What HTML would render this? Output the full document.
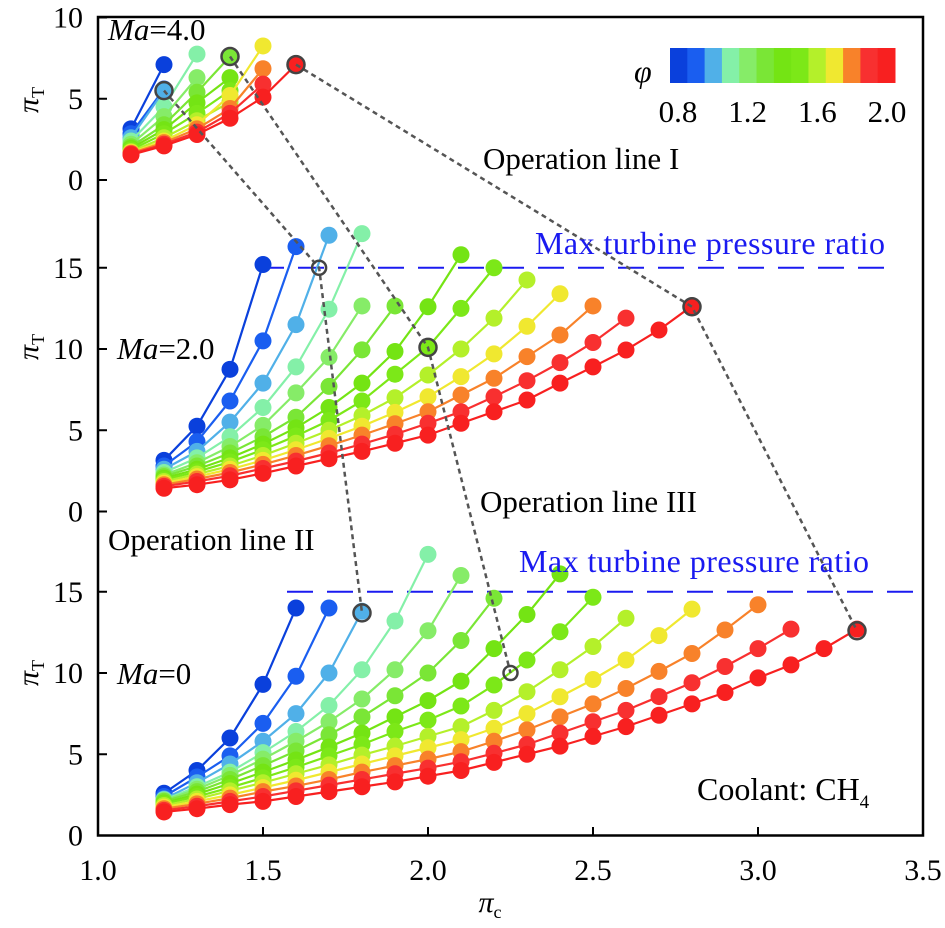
<!DOCTYPE html>
<html><head><meta charset="utf-8"><style>
html,body{margin:0;padding:0;background:#fff}
svg{display:block;font-family:"Liberation Serif",serif}
</style></head><body>
<svg id="chart" width="945" height="928" viewBox="0 0 945 928"></svg>
<script>
const phiTicks = ["0.8","1.2","1.6","2.0"];
const phiColors = ["#0a40dc","#1a5ef0","#50b0e8","#84f0a8","#86ec68","#7ae636","#74e414","#7ce818","#b4f02a","#f0e830","#f8822a","#f83030","#f82020"];
const xTicks = [1.0,1.5,2.0,2.5,3.0,3.5];
const xTickLabels = ["1.0","1.5","2.0","2.5","3.0","3.5"];
const topTicks = [0,5,10];
const panelTicks = [0,5,10,15];
const topStart = 1.1, midStart = 1.2, botStart = 1.2;
const topSeries = [
 [3.15,7.1],[2.85,5.6],[2.6,5.5],[2.4,4.5,7.75],[2.2,3.9,6.3],[2.05,3.4,5.4,7.6],
 [1.95,3.1,4.75,6.3],[1.85,2.85,4.1,5.5],[1.75,2.6,3.65,4.8],[1.7,2.4,3.4,5.2,8.25],
 [1.65,2.3,3.15,4.4,6.85],[1.6,2.2,2.95,4.1,5.9],[1.55,2.1,2.8,3.8,5.1,7.1]
];
const midSeries = [
 [3.15,5.25,8.75,15.2],
 [2.8,4.3,6.8,10.5,16.3],
 [2.6,3.7,5.5,7.9,11.5,17.0],
 [2.4,3.3,4.6,6.4,8.9,12.45,17.1],
 [2.25,3.0,4.0,5.3,7.3,9.5,12.65],
 [2.15,2.8,3.6,4.6,5.8,7.7,9.95,12.65],
 [2.05,2.6,3.3,4.15,5.15,6.4,7.9,9.85,12.6,15.8],
 [1.95,2.45,3.05,3.8,4.65,5.6,6.8,8.45,10.1,12.5,15.0],
 [1.85,2.3,2.8,3.45,4.2,5.0,5.9,7.0,8.4,10.0,11.9,14.25],
 [1.75,2.15,2.6,3.15,3.8,4.5,5.25,6.1,7.06,8.3,9.7,11.4,13.4],
 [1.65,2.0,2.4,2.9,3.45,4.05,4.7,5.4,6.14,7.17,8.2,9.53,10.86,12.65],
 [1.55,1.85,2.2,2.65,3.1,3.6,4.15,4.75,5.43,6.14,7.06,8.05,9.16,10.4,11.9],
 [1.43,1.65,1.95,2.35,2.8,3.25,3.7,4.2,4.7,5.43,6.14,6.86,7.9,8.9,9.94,11.17,12.65]
];
const botSeries = [
 [2.6,4.0,6.0,9.3,14.0],
 [2.4,3.6,4.9,6.9,9.8,14.0],
 [2.25,3.25,4.4,5.8,7.5,10.0,13.8],
 [2.2,3.0,3.9,5.1,6.4,8.0,10.2,13.2,17.3],
 [2.15,2.85,3.7,4.7,5.8,7.0,8.4,10.2,12.6,16.0],
 [2.1,2.7,3.45,4.3,5.2,6.2,7.3,8.6,10.0,12.0,14.6],
 [2.0,2.55,3.2,3.9,4.65,5.45,6.3,7.3,8.3,9.5,11.5,13.6,16.1],
 [1.95,2.4,2.95,3.55,4.2,4.9,5.6,6.4,7.1,7.97,9.26,10.8,12.54,14.66],
 [1.85,2.25,2.75,3.25,3.8,4.35,4.95,5.5,6.1,6.7,7.7,8.85,10.2,11.63,13.37],
 [1.75,2.1,2.5,2.95,3.4,3.9,4.4,4.9,5.4,5.9,6.6,7.5,8.54,9.6,10.8,12.3,13.93],
 [1.65,1.95,2.3,2.7,3.05,3.45,3.9,4.3,4.7,5.16,5.8,6.5,7.3,8.1,9.05,10.1,11.2,12.65,14.2],
 [1.55,1.8,2.1,2.4,2.75,3.1,3.45,3.8,4.15,4.54,5.06,5.6,6.3,7.0,7.7,8.55,9.4,10.4,11.5,12.7],
 [1.45,1.65,1.9,2.1,2.4,2.7,3.0,3.3,3.65,4.0,4.5,5.0,5.5,6.1,6.7,7.4,8.1,8.8,9.7,10.5,11.5,12.7]
];
const opLine1 = [["top",1.6,7.1],["mid",2.8,12.6],["bot",3.3,12.6]];
const opLine2 = [["top",1.2,5.5],["mid",1.67,15.0],["bot",1.8,13.7]];
const opLine3 = [["top",1.4,7.6],["mid",2.0,10.1],["bot",2.25,10.0]];
const maxTurbine = 15;

const NS="http://www.w3.org/2000/svg";
const svg=document.getElementById('chart');
function el(tag,attrs,parent){const e=document.createElementNS(NS,tag);for(const k in attrs)e.setAttribute(k,attrs[k]);(parent||svg).appendChild(e);return e;}
const X=v=>98+330*(v-1);
const Y0={top:180,mid:511.5,bot:835.5};
const Yf=(p,v)=>Y0[p]-16.25*v;

const frame=el('rect',{x:98,y:17,width:825,height:818.5,fill:'none',stroke:'#000','stroke-width':2.5});



xTicks.forEach((t,i)=>{
  const l=el('line',{x1:X(t),x2:X(t),y1:835.5,y2:827,stroke:'#000','stroke-width':2});
  
  
  const tx=el('text',{x:X(t),y:880,'font-size':30,'text-anchor':'middle'});
  tx.textContent=xTickLabels[i];
  
  
});
function yTicks(p,ticks){
  ticks.forEach(t=>{
    const y=Yf(p,t);
    const l=el('line',{x1:98,x2:107,y1:y,y2:y,stroke:'#000','stroke-width':2});
    
    
    const tx=el('text',{x:83,y:y+10,'font-size':30,'text-anchor':'end'});
    tx.textContent=String(t);
    
    
  });
}
yTicks('top',topTicks);yTicks('mid',panelTicks);yTicks('bot',panelTicks);

[["top",100],["mid",347],["bot",673]].forEach(([p,cy])=>{
  const g=el('text',{x:0,y:0,'font-size':30,'font-style':'italic',transform:`translate(38,${cy}) rotate(-90)`,'text-anchor':'middle'});
  g.innerHTML='π<tspan font-size="18" font-style="normal" dy="6">T</tspan>';
  
  
});
const xt=el('text',{x:490,y:912,'font-size':30,'font-style':'italic','text-anchor':'middle'});
xt.innerHTML='π<tspan font-size="18" font-style="normal" dy="6">c</tspan>';



[["mid",258,885],["bot",287,925]].forEach(([p,a,b])=>{
  const l=el('line',{x1:a,x2:b,y1:Yf(p,maxTurbine),y2:Yf(p,maxTurbine),stroke:'#1a1af0','stroke-width':2,'stroke-dasharray':'26 14'});
  
  
});

function drawPanel(p,series,start){
  series.forEach((vals,i)=>{
    const pts=vals.map((v,j)=>[X(start+0.1*j),Yf(p,v)]);
    const pl=el('polyline',{points:pts.map(q=>q.join(',')).join(' '),fill:'none',stroke:phiColors[i],'stroke-width':2.2});
    
    
    pts.forEach(q=>{
      const c=el('circle',{cx:q[0],cy:q[1],r:8.5,fill:phiColors[i]});
      
      
    });
  });
}
drawPanel('top',topSeries,topStart);
drawPanel('mid',midSeries,midStart);
drawPanel('bot',botSeries,botStart);

[opLine1,opLine2,opLine3].forEach((ln,k)=>{
  const pts=ln.map(q=>[X(q[1]),Yf(q[0],q[2])]);
  const pl=el('polyline',{points:pts.map(q=>q.join(',')).join(' '),fill:'none',stroke:'#555','stroke-width':2.5,'stroke-dasharray':'5 4'});
  
  
  pts.forEach((q,j)=>{
    const hollow=(k===1&&j===1)||(k===2&&j===2);
    const c=el('circle',{cx:q[0],cy:q[1],r:hollow?7:8.5,fill:'none',stroke:'#444','stroke-width':2.5});
    
    
  });
});

function txt(s,x,y,name,opts){
  const t=el('text',Object.assign({x:x,y:y,'font-size':31},opts||{}));
  t.innerHTML=s;
  
  
  return t;
}
txt('<tspan font-style="italic">Ma</tspan>=4.0',108,40,'ma-4-label',{'font-size':31});
txt('<tspan font-style="italic">Ma</tspan>=2.0',117,359,'ma-2-label',{'font-size':31});
txt('<tspan font-style="italic">Ma</tspan>=0',117,684,'ma-0-label',{'font-size':31});
txt('Operation line I',483,169,'operation-line-1-label');
txt('Operation line III',480,512,'operation-line-3-label');
txt('Operation line II',108,550,'operation-line-2-label');
txt('Max turbine pressure ratio',535,254,'max-turbine-label-mid',{fill:'#1a1af0','font-size':32,textLength:350});
txt('Max turbine pressure ratio',519,572,'max-turbine-label-bot',{fill:'#1a1af0','font-size':32,textLength:350});
txt('Coolant: CH<tspan font-size="19" dy="8">4</tspan>',697,800,'coolant-label',{'font-size':32});

const cbW=225/phiColors.length;
phiColors.forEach((c,i)=>{
  const r=el('rect',{x:670+i*cbW,y:48,width:cbW+0.5,height:35,fill:c});
  
  
});
txt('φ',634,82,'colorbar-title',{'font-style':'italic','font-size':32});
phiTicks.forEach((t,i)=>{
  const v=parseFloat(t);
  const x=670+8+(v-0.8)/1.2*(225-16);
  txt(t,x,122,'colorbar-tick-label',{'text-anchor':'middle','font-size':31});
});
</script>
</body></html>
